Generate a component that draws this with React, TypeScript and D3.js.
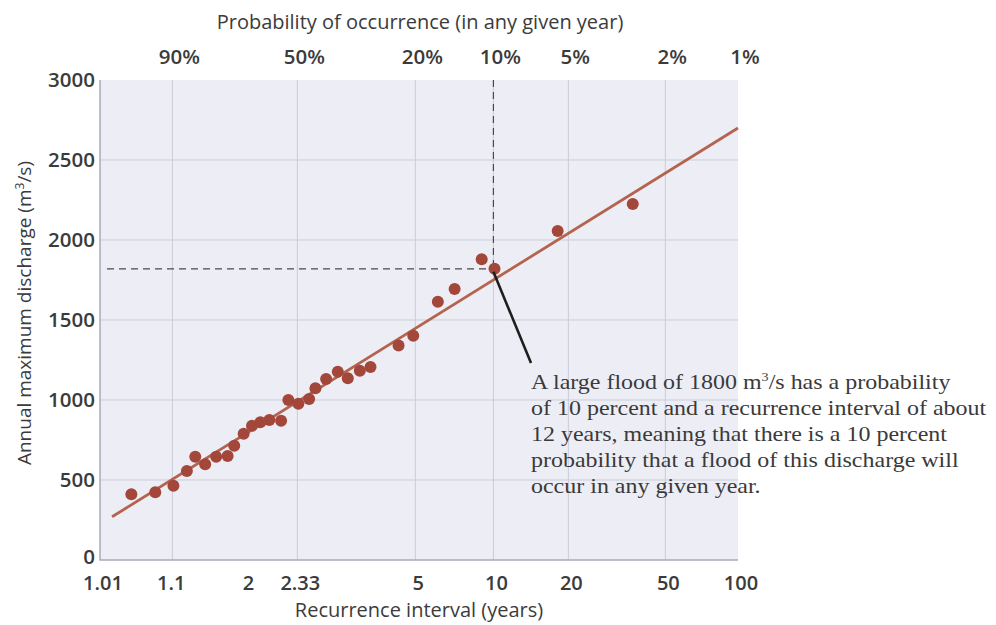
import React, { useEffect, useRef } from "react";
import * as d3 from "d3";

// annual maxima (recurrence interval in years, discharge in m3/s)
const recurrence = [
  1.034, 1.071, 1.114, 1.156, 1.187, 1.229, 1.283, 1.348, 1.39, 1.456, 1.521,
  1.592, 1.677, 1.801, 1.886, 2.014, 2.167, 2.265, 2.446, 2.667, 2.878, 3.161,
  3.443, 4.337, 4.914, 6.08, 7.05, 8.99, 10.1, 18.1, 36.7,
];
const discharge = [
  411, 423, 464, 556, 646, 598, 646, 650, 714, 789, 839, 861, 875, 871, 1000,
  977, 1006, 1073, 1131, 1177, 1136, 1183, 1206, 1341, 1402, 1614, 1694, 1879,
  1820, 2056, 2225,
];

const fitInterval = [1.0167, 100];
const fitDischarge = [270, 2700];

const probTicks = [0.9, 0.5, 0.2, 0.1, 0.05, 0.02, 0.01];
const probLabels = ["90%", "50%", "20%", "10%", "5%", "2%", "1%"];

const intervalTicks = [1.01, 1.1, 1.47, 2, 5, 10, 20, 50, 100];
const intervalLabels = ["1.01", "1.1", "2", "2.33", "5", "10", "20", "50", "100"];

const dischargeTicks = [0, 500, 1000, 1500, 2000, 2500, 3000];

const markedInterval = 10;
const markedDischarge = 1820;

const noteLines = [
  "A large flood of 1800 m³/s has a probability",
  "of 10 percent and a recurrence interval of about",
  "12 years, meaning that there is a 10 percent",
  "probability that a flood of this discharge will",
  "occur in any given year.",
];

// Gumbel reduced variate for a recurrence interval
const gumbel = (t: number) => -Math.log(-Math.log(1 - 1 / t));

const W = 996;
const H = 625;
const SANS = "'Open Sans', sans-serif";
const TXT = "#3b3b3b";

const App: React.FC = () => {
  const svgRef = useRef<SVGSVGElement>(null);

  useEffect(() => {
    const svg = d3.select(svgRef.current);
    svg.selectAll("*").remove();

    const x = d3
      .scaleLinear()
      .domain([gumbel(1.01), gumbel(100)])
      .range([100, 738]);
    const y = d3.scaleLinear().domain([0, 3000]).range([560, 80]);

    svg.append("rect").attr("width", W).attr("height", H).attr("fill", "#fff");

    // plot background
    svg
      .append("rect")
      .attr("x", x.range()[0])
      .attr("y", y(3000))
      .attr("width", x.range()[1] - x.range()[0])
      .attr("height", y(0) - y(3000))
      .attr("fill", "#edeef5");

    const grid = svg.append("g").attr("stroke", "#c9cbda").attr("stroke-width", 1);
    grid
      .selectAll("line.h")
      .data(dischargeTicks.filter((d) => d > 0 && d < 3000))
      .join("line")
      .attr("x1", x.range()[0])
      .attr("x2", x.range()[1])
      .attr("y1", (d) => y(d))
      .attr("y2", (d) => y(d));
    grid
      .selectAll("line.v")
      .data(probTicks.filter((p) => p > 0.01))
      .join("line")
      .attr("x1", (p) => x(gumbel(1 / p)))
      .attr("x2", (p) => x(gumbel(1 / p)))
      .attr("y1", y(0))
      .attr("y2", y(3000));

    // axis lines
    svg
      .append("path")
      .attr("d", `M${x.range()[0]},${y(3000)}V${y(0)}H${x.range()[1]}`)
      .attr("fill", "none")
      .attr("stroke", "#a9abb8")
      .attr("stroke-width", 1.5);

    // marked flood guides
    const mx = x(gumbel(markedInterval));
    const my = y(markedDischarge);
    svg
      .append("path")
      .attr("d", `M107,${my}H${mx}M${mx},${y(3000)}V${my}`)
      .attr("fill", "none")
      .attr("stroke", "#4a4a4a")
      .attr("stroke-width", 1.2)
      .attr("stroke-dasharray", "7,5");

    // fitted line
    const line = d3
      .line<number>()
      .x((t) => x(gumbel(t)))
      .y((_, i) => y(fitDischarge[i]));
    svg
      .append("path")
      .attr("d", line(fitInterval) || "")
      .attr("fill", "none")
      .attr("stroke", "#b4644e")
      .attr("stroke-width", 2.8);

    // points
    svg
      .append("g")
      .selectAll("circle")
      .data(recurrence)
      .join("circle")
      .attr("cx", (t) => x(gumbel(t)))
      .attr("cy", (_, i) => y(discharge[i]))
      .attr("r", 6)
      .attr("fill", "#a3473a");

    // leader line
    svg
      .append("line")
      .attr("x1", mx)
      .attr("y1", my + 3)
      .attr("x2", 531)
      .attr("y2", 363)
      .attr("stroke", "#1e1e1e")
      .attr("stroke-width", 2.6);

    // y tick labels
    svg
      .append("g")
      .selectAll("text")
      .data(dischargeTicks)
      .join("text")
      .attr("x", 95)
      .attr("y", (d) => y(d) + (d === 0 ? 4 : 7))
      .attr("text-anchor", "end")
      .attr("font-family", SANS)
      .attr("font-weight", 600)
      .attr("font-size", 20.5)
      .attr("fill", TXT)
      .text((d) => d);

    // bottom tick labels
    svg
      .append("g")
      .selectAll("text")
      .data(intervalTicks)
      .join("text")
      .attr("x", (t) => x(gumbel(t)) + 3)
      .attr("y", 590)
      .attr("text-anchor", "middle")
      .attr("font-family", SANS)
      .attr("font-weight", 600)
      .attr("font-size", 20)
      .attr("fill", TXT)
      .text((_, i) => intervalLabels[i]);

    // top tick labels
    svg
      .append("g")
      .selectAll("text")
      .data(probTicks)
      .join("text")
      .attr("x", (p) => x(gumbel(1 / p)) + 7)
      .attr("y", 64)
      .attr("text-anchor", "middle")
      .attr("font-family", SANS)
      .attr("font-weight", 600)
      .attr("font-size", 20.5)
      .attr("fill", TXT)
      .text((_, i) => probLabels[i]);

    // axis titles
    svg
      .append("text")
      .attr("x", 420)
      .attr("y", 29)
      .attr("text-anchor", "middle")
      .attr("font-family", SANS)
      .attr("font-weight", 500)
      .attr("font-size", 20)
      .attr("fill", TXT)
      .text("Probability of occurrence (in any given year)");
    svg
      .append("text")
      .attr("x", 419)
      .attr("y", 617)
      .attr("text-anchor", "middle")
      .attr("font-family", SANS)
      .attr("font-weight", 500)
      .attr("font-size", 20)
      .attr("fill", TXT)
      .text("Recurrence interval (years)");

    const yt = svg
      .append("text")
      .attr("transform", "translate(31,313) rotate(-90)")
      .attr("text-anchor", "middle")
      .attr("font-family", SANS)
      .attr("font-weight", 500)
      .attr("font-size", 19)
      .attr("fill", TXT);
    yt.append("tspan").text("Annual maximum discharge (m");
    yt.append("tspan").attr("font-size", 12).attr("dy", -7).text("3");
    yt.append("tspan").attr("dy", 7).text("/s)");

    // annotation
    const note = svg
      .append("g")
      .attr("transform", "translate(531,389) scale(1.09,1)")
      .attr("font-family", "'Liberation Serif', 'Times New Roman', serif")
      .attr("font-size", 22)
      .attr("fill", "#3a3a3a");
    noteLines.forEach((ln, i) => {
      const t = note.append("text").attr("x", 0).attr("y", i * 26);
      const parts = ln.split("³");
      t.append("tspan").text(parts[0]);
      if (parts.length > 1) {
        t.append("tspan").attr("font-size", 13).attr("dy", -8).text("3");
        t.append("tspan").attr("dy", 8).text(parts[1]);
      }
    });
  }, []);

  return (
    <svg
      ref={svgRef}
      width={W}
      height={H}
      style={{ position: "absolute", left: 0, top: 0 }}
    />
  );
};

export default App;
